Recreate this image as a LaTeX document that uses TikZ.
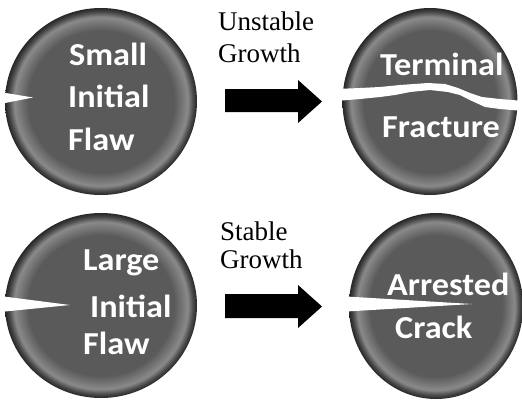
\documentclass[tikz,border=0pt]{standalone}
\usepackage{fontspec}
\setmainfont{Liberation Serif}
\newfontfamily\discfont{Carlito}
\usetikzlibrary{shapes.geometric}

\definecolor{discface}{HTML}{5A5A5A}
\definecolor{discbevel}{HTML}{8A8A8A}
\definecolor{discedge}{HTML}{484848}
\definecolor{discrim}{HTML}{262626}

% Button-like disc: flat grey face, light bevel ring, dark rim (rim at 25bp)
\pgfdeclareradialshading{discshade}{\pgfpoint{0bp}{0bp}}{%
  color(0bp)=(discface); color(19bp)=(discface); color(22.6bp)=(discbevel);
  color(24bp)=(discedge); color(25bp)=(discrim); color(50bp)=(discrim)}

\tikzset{
  disc/.style={ellipse, inner sep=0pt, outer sep=0pt, draw=none, shade, shading=discshade},
  disctext/.style={anchor=base west, inner sep=0pt, text=white,
    font=\discfont\bfseries\fontsize{32}{38}\selectfont, xscale=1.07},
  growthtext/.style={anchor=base west, inner sep=0pt, text=black,
    font=\fontsize{27}{32}\selectfont},
  crack/.style={fill=white, draw=none},
  blockarrow/.style={fill=black, draw=none}
}

\begin{document}
\begin{tikzpicture}[x=1pt, y=-1pt]
  \useasboundingbox (0,0) rectangle (522,400);

  % discs
  \node[disc, minimum width=192pt, minimum height=187pt] (small) at (101,101.5) {};
  \node[disc, minimum width=175pt, minimum height=187pt] (terminal) at (430,101.5) {};
  \node[disc, minimum width=192pt, minimum height=185pt] (large) at (101,305.5) {};
  \node[disc, minimum width=174pt, minimum height=186pt] (arrested) at (436,306) {};

  % cracks
  \fill[crack] (0,92) -- (33,97.5) -- (0,104) -- cycle;
  \fill[crack] (0,296) -- (70,305) -- (0,312) -- cycle;
  \fill[crack] (338,296) -- (472,304) -- (338,312) -- cycle;
  \fill[crack] (336,89) -- (360,88) -- (380,87) -- (400,85) -- (428,83) -- (445,84)
    -- (458,88) -- (470,93) -- (482,97) -- (500,99) -- (524,101)
    -- (524,111) -- (500,109) -- (485,107) -- (472,101) -- (460,95) -- (448,92)
    -- (430,90) -- (410,92) -- (395,95) -- (380,97) -- (360,99) -- (336,101) -- cycle;

  % disc labels
  \node[disctext] (t1) at (69,65) {Small};
  \node[disctext] (t2) at (68,107) {Initial};
  \node[disctext] (t3) at (68,150) {Flaw};
  \node[disctext] (t4) at (380,75) {Terminal};
  \node[disctext] (t5) at (382,137) {Fracture};
  \node[disctext] (t6) at (83,270) {Large};
  \node[disctext] (t7) at (90,317) {Initial};
  \node[disctext] (t8) at (83,354) {Flaw};
  \node[disctext] (t9) at (387,295) {Arrested};
  \node[disctext] (t10) at (395,338) {Crack};

  % block arrows
  \fill[blockarrow] (225,89) -- (298,89) -- (298,80) -- (322,101.5) -- (298,123)
    -- (298,112) -- (225,112) -- cycle;
  \fill[blockarrow] (225,294) -- (298,294) -- (298,285) -- (322,306.5) -- (298,328)
    -- (298,318) -- (225,318) -- cycle;

  % growth labels
  \node[growthtext] (g1) at (218,30) {Unstable};
  \node[growthtext] (g2) at (218,62) {Growth};
  \node[growthtext] (g3) at (220,240) {Stable};
  \node[growthtext] (g4) at (220,268) {Growth};
\end{tikzpicture}
\end{document}
